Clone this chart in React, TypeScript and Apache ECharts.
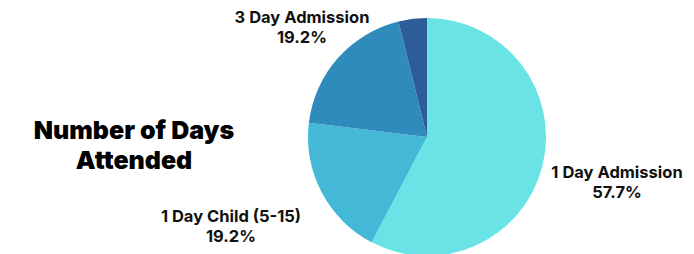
import React, { useEffect, useRef } from "react";
import * as echarts from "echarts";

const categories = ["1 Day Admission", "1 Day Child (5-15)", "3 Day Admission", "Other"];
const values = [15, 5, 5, 1];
const colors = ["#6ae3e7", "#44b8d7", "#2e8bbc", "#2d5d99"];
const showLabel = [true, true, true, false];
const titleLines = ["Number of Days", "Attended"];

export default function App() {
  const ref = useRef<HTMLDivElement>(null);
  useEffect(() => {
    const chart = echarts.init(ref.current!, null, { renderer: "svg" });
    const labelPos: Record<number, { x: number; y: number }> = {
      0: { x: 617, y: 182 },
      1: { x: 231, y: 226 },
      2: { x: 302, y: 27 },
    };
    const titleStyle = {
      fontFamily: "Inter",
      fontWeight: 900,
      fontSize: 25,
      fill: "#000",
      align: "center",
      verticalAlign: "middle",
    };
    chart.setOption({
      animation: false,
      graphic: [
        { type: "text", x: 134, y: 130, style: { ...titleStyle, text: titleLines[0] } },
        { type: "text", x: 134, y: 160, style: { ...titleStyle, text: titleLines[1] } },
      ],
      series: [
        {
          type: "pie",
          center: [427, 137],
          radius: [0, 119],
          startAngle: 90,
          clockwise: true,
          itemStyle: { borderWidth: 0 },
          label: {
            show: true,
            position: "outside",
            formatter: (p: any) => `${p.name}\n${p.percent.toFixed(1)}%`,
            fontFamily: "Inter",
            fontWeight: 700,
            fontSize: 16.5,
            lineHeight: 20,
            color: "#111",
            align: "center",
            overflow: "none",
          },
          labelLine: { show: false },
          labelLayout: (params: any) => {
            const pos = labelPos[params.dataIndex];
            if (!pos) return {};
            return { x: pos.x, y: pos.y, align: "center", verticalAlign: "middle" };
          },
          emphasis: { disabled: true },
          data: categories.map((c, i) => ({
            name: c,
            value: values[i],
            itemStyle: { color: colors[i] },
            label: { show: showLabel[i] },
          })),
        },
      ],
    });
    return () => chart.dispose();
  }, []);
  return (
    <div
      ref={ref}
      style={{ position: "fixed", left: 0, top: 0, width: 694, height: 254, background: "#fff" }}
    />
  );
}
